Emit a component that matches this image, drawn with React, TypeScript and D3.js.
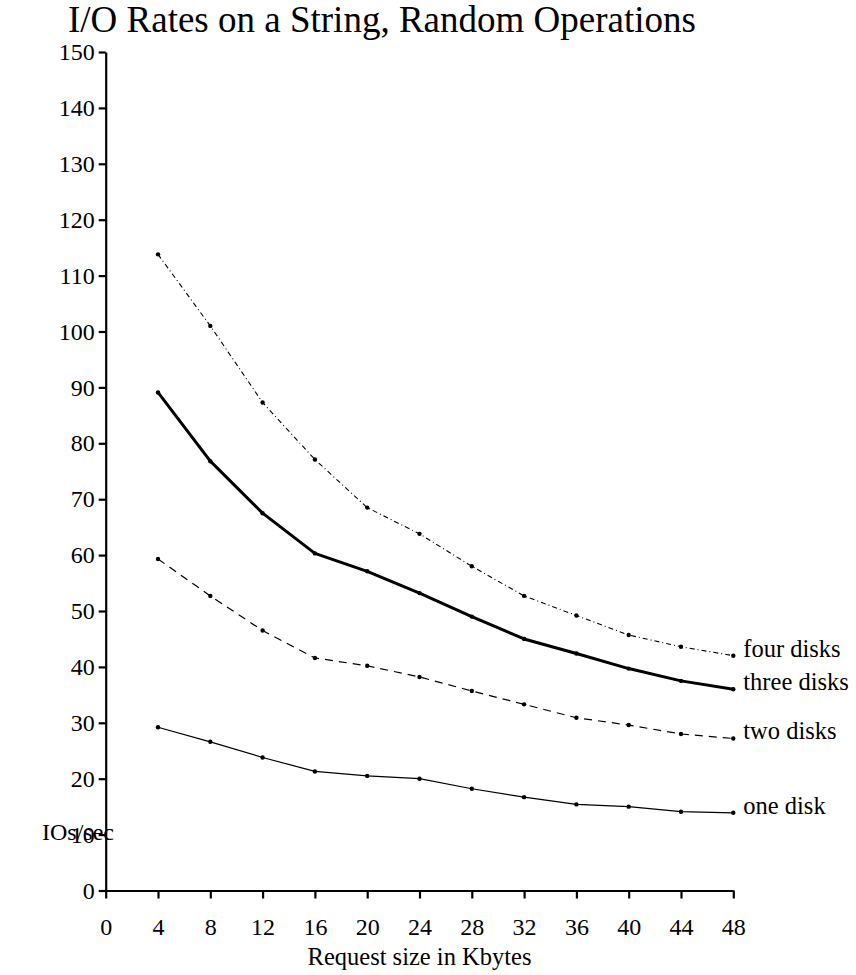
import { useEffect, useRef } from "react";
import * as d3 from "d3";

const requestSizes = [4, 8, 12, 16, 20, 24, 28, 32, 36, 40, 44, 48];
const oneDisk = [29.2, 26.6, 23.8, 21.3, 20.5, 20.0, 18.2, 16.7, 15.4, 15.0, 14.1, 13.9];
const twoDisks = [59.3, 52.7, 46.5, 41.6, 40.2, 38.2, 35.7, 33.3, 30.9, 29.6, 28.0, 27.2];
const threeDisks = [89.1, 76.8, 67.5, 60.3, 57.1, 53.2, 49.0, 45.0, 42.4, 39.7, 37.5, 36.0];
const fourDisks = [113.8, 101.0, 87.3, 77.1, 68.5, 63.8, 58.0, 52.7, 49.2, 45.7, 43.6, 42.0];
const seriesLabels = ["one disk", "two disks", "three disks", "four disks"];
const xTicks = [0, 4, 8, 12, 16, 20, 24, 28, 32, 36, 40, 44, 48];
const yTicks = [0, 10, 20, 30, 40, 50, 60, 70, 80, 90, 100, 110, 120, 130, 140, 150];

const FONT = "'Liberation Serif', 'Times New Roman', serif";

const styles = [
  { width: 1.2, dash: null },
  { width: 1.2, dash: "8,6" },
  { width: 3, dash: null },
  { width: 1.1, dash: "5,3,1,3" },
];

export default function App() {
  const xAxisRef = useRef(null);
  const yAxisRef = useRef(null);

  const width = 856;
  const height = 975;

  const x = d3.scaleLinear().domain([0, 48]).range([105.7, 733.3]);
  const y = d3.scaleLinear().domain([0, 150]).range([890.5, 52]);

  const series = [oneDisk, twoDisks, threeDisks, fourDisks];
  const line = d3
    .line<number>()
    .x((_, i) => x(requestSizes[i]))
    .y((d) => y(d));

  useEffect(() => {
    const gx = d3.select(xAxisRef.current);
    gx.call(
      d3.axisBottom(x).tickValues(xTicks).tickSize(8).tickSizeOuter(0).tickPadding(19)
    );
    gx.selectAll("path, line").attr("stroke", "#000").attr("stroke-width", 2.2);
    gx.selectAll("text")
      .attr("font-family", FONT)
      .attr("font-size", 24)
      .attr("fill", "#000");

    const gy = d3.select(yAxisRef.current);
    gy.call(
      d3.axisLeft(y).tickValues(yTicks).tickSize(7).tickSizeOuter(0).tickPadding(4)
    );
    gy.selectAll("path, line").attr("stroke", "#000").attr("stroke-width", 2.2);
    gy.selectAll("text")
      .attr("font-family", FONT)
      .attr("font-size", 24)
      .attr("fill", "#000");
    gx.attr("font-family", null).attr("font-size", null);
    gy.attr("font-family", null).attr("font-size", null);
  }, []);

  return (
    <svg
      width={width}
      height={height}
      style={{ position: "absolute", left: 0, top: 0, background: "#fff" }}
    >
      <text x={68} y={32} fontFamily={FONT} fontSize={37} fill="#000">
        I/O Rates on a String, Random Operations
      </text>

      <g ref={xAxisRef} transform={`translate(0,${y(0)})`} />
      <g ref={yAxisRef} transform={`translate(${x(0)},0)`} />

      <text x={42} y={840} fontFamily={FONT} fontSize={24} fill="#000">
        IOs/sec
      </text>
      <text
        x={(x(0) + x(48)) / 2}
        y={965}
        textAnchor="middle"
        fontFamily={FONT}
        fontSize={24.5}
        fill="#000"
      >
        Request size in Kbytes
      </text>

      {series.map((s, si) => (
        <g key={seriesLabels[si]}>
          <path
            d={line(s) ?? ""}
            fill="none"
            stroke="#000"
            strokeWidth={styles[si].width}
            strokeDasharray={styles[si].dash ?? undefined}
            strokeLinejoin="round"
          />
          {s.map((v, i) => (
            <circle key={i} cx={x(requestSizes[i])} cy={y(v)} r={2.2} fill="#000" />
          ))}
          <text
            x={x(48) + 10}
            y={y(s[s.length - 1]) + 1}
            fontFamily={FONT}
            fontSize={24.5}
            fill="#000"
          >
            {seriesLabels[si]}
          </text>
        </g>
      ))}
    </svg>
  );
}
